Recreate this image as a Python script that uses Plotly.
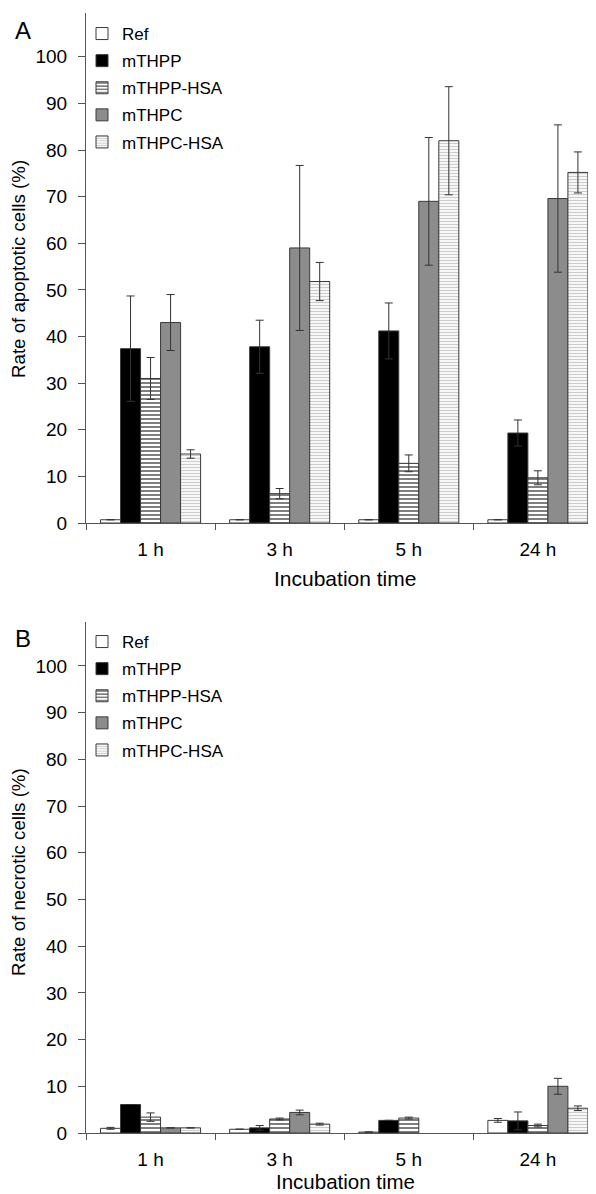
import plotly.graph_objects as go

categories = ["1 h", "3 h", "5 h", "24 h"]
series = ["Ref", "mTHPP", "mTHPP-HSA", "mTHPC", "mTHPC-HSA"]

# Panel A: apoptotic cells (%)
apo_ref = [0.7, 0.7, 0.7, 0.7]
apo_thpp = [37.4, 37.8, 41.2, 19.3]
apo_thpp_hsa = [31.0, 6.3, 12.8, 9.7]
apo_thpc = [43.0, 59.0, 69.0, 69.6]
apo_thpc_hsa = [14.8, 51.8, 82.0, 75.2]
apo_ref_err = [0, 0, 0, 0]
apo_thpp_err = [11.3, 5.7, 6.0, 2.8]
apo_thpp_hsa_err = [4.5, 1.1, 1.8, 1.5]
apo_thpc_err = [6.0, 17.7, 13.7, 15.8]
apo_thpc_hsa_err = [0.9, 4.1, 11.6, 4.4]

# Panel B: necrotic cells (%)
nec_ref = [1.0, 0.8, 0.2, 2.7]
nec_thpp = [6.1, 1.1, 2.7, 2.6]
nec_thpp_hsa = [3.4, 3.0, 3.2, 1.6]
nec_thpc = [1.1, 4.4, None, 10.0]
nec_thpc_hsa = [1.1, 1.9, None, 5.3]
nec_ref_err = [0.2, 0, 0, 0.4]
nec_thpp_err = [0, 0.5, 0, 1.9]
nec_thpp_hsa_err = [0.9, 0.2, 0.2, 0.3]
nec_thpc_err = [0, 0.5, 0, 1.7]
nec_thpc_hsa_err = [0, 0.2, 0, 0.5]

yticks = list(range(0, 101, 10))

FONT = "Liberation Sans, Arial, sans-serif"
# page body has an 8px margin: figure is drawn from (8,8)
OFF = 8
W, H = 596 - OFF, 1194 - OFF
OUT = "#3a3a3a"

styles = [
    dict(color="white", pattern=None),
    dict(color="black", pattern=None),
    dict(color="white", pattern=dict(shape="-", fgcolor="black", bgcolor="white", size=4, solidity=0.5, fillmode="overlay")),
    dict(color="#8c8c8c", pattern=None),
    dict(color="white", pattern=dict(shape="-", fgcolor="#9a9a9a", bgcolor="white", size=3, solidity=0.45, fillmode="overlay")),
]

fig = go.Figure()

def add_panel(values, errors, xa, ya, legend, tag):
    for i, (name, vals, errs) in enumerate(zip(series, values, errors)):
        st = styles[i]
        marker = dict(color=st["color"], line=dict(color=OUT, width=1))
        if st["pattern"] is not None:
            marker["pattern"] = st["pattern"]
        fig.add_trace(go.Bar(
            x=categories, y=vals, name=name, marker=marker,
            error_y=dict(type="data", array=errs, visible=True, color="#333333", thickness=1, width=4),
            xaxis=xa, yaxis=ya, legend=legend, legendgroup=f"{tag}{i}",
        ))

add_panel([apo_ref, apo_thpp, apo_thpp_hsa, apo_thpc, apo_thpc_hsa],
          [apo_ref_err, apo_thpp_err, apo_thpp_hsa_err, apo_thpc_err, apo_thpc_hsa_err],
          "x", "y", "legend", "a")
add_panel([nec_ref, nec_thpp, nec_thpp_hsa, nec_thpc, nec_thpc_hsa],
          [nec_ref_err, nec_thpp_err, nec_thpp_hsa_err, nec_thpc_err, nec_thpc_hsa_err],
          "x2", "y2", "legend2", "b")

def px(p):
    return (p - OFF) / W

def py(p):
    return 1 - (p - OFF) / H

xdom = [px(86), 1]
xcommon = dict(domain=xdom, range=[-0.5, 3.45], showline=True, linecolor="#555", linewidth=1,
               ticks="outside", ticklen=6, tickcolor="#555", tickson="boundaries",
               tickfont=dict(family=FONT, size=19, color="black"), ticklabelstandoff=9,
               showgrid=False, zeroline=False, fixedrange=True, automargin=False)
ycommon = dict(range=[0, 109.4], tickvals=yticks, showline=True, linecolor="#555", linewidth=1,
               ticks="outside", ticklen=7, tickcolor="#555", ticklabelstandoff=7,
               tickfont=dict(family=FONT, size=19, color="black"),
               showgrid=False, zeroline=False, automargin=False)

fig.update_layout(
    width=W, height=H, margin=dict(l=0, r=0, t=0, b=0),
    paper_bgcolor="white", plot_bgcolor="white",
    barmode="group", bargap=0.225, bargroupgap=0,
    font=dict(family=FONT, size=17, color="black"),
    xaxis=dict(anchor="y", **xcommon),
    yaxis=dict(domain=[py(523), py(13)], anchor="x", **ycommon),
    xaxis2=dict(anchor="y2", **xcommon),
    yaxis2=dict(domain=[py(1133), py(622)], anchor="x2", **ycommon),
    legend=dict(x=px(82), y=py(16), xanchor="left", yanchor="top", bgcolor="rgba(0,0,0,0)",
                font=dict(family=FONT, size=17), tracegroupgap=2, itemclick=False),
    legend2=dict(x=px(82), y=py(624), xanchor="left", yanchor="top", bgcolor="rgba(0,0,0,0)",
                 font=dict(family=FONT, size=17), tracegroupgap=2, itemclick=False),
    showlegend=True,
)

ann = [
    dict(text="A", x=23, y=31, size=24),
    dict(text="B", x=23, y=638, size=24),
    dict(text="Rate of apoptotic cells (%)", x=18, y=269, size=18.7, angle=-90),
    dict(text="Rate of necrotic cells (%)", x=18, y=872, size=18.7, angle=-90),
    dict(text="Incubation time", x=345, y=578, size=21),
    dict(text="Incubation time", x=345, y=1181, size=20.5),
]
for a in ann:
    fig.add_annotation(xref="paper", yref="paper", showarrow=False, xanchor="center", yanchor="middle",
                       x=px(a["x"]), y=py(a["y"]), text=a["text"], textangle=a.get("angle", 0),
                       font=dict(family=FONT, color="black", size=a["size"]))

fig.write_html("out.html")
